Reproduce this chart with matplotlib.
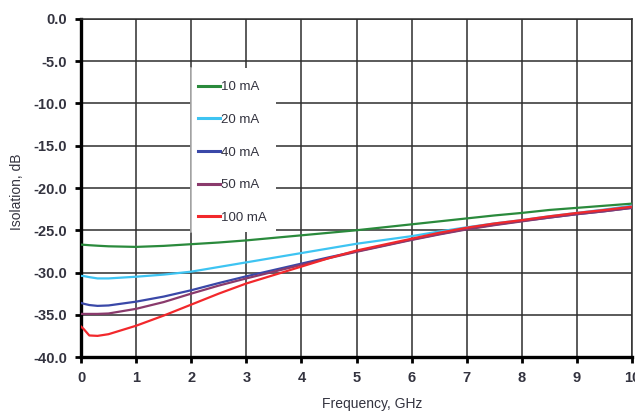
import matplotlib
matplotlib.use('Agg')
import matplotlib.pyplot as plt
import matplotlib.patches as mpatches

FONT = 'Liberation Sans'
TEXT_COLOR = '#33333f'

freq = [0, 0.05, 0.15, 0.3, 0.5, 1, 1.5, 2, 2.5, 3, 3.5, 4, 4.5, 5,
        5.5, 6, 6.5, 7, 7.5, 8, 8.5, 9, 9.5, 10]
iso_10ma = [-26.7, -26.72, -26.77, -26.83, -26.9, -26.97, -26.85, -26.65, -26.45, -26.2, -25.9, -25.6,
            -25.3, -25.0, -24.65, -24.3, -23.95, -23.6, -23.25, -22.95, -22.6, -22.35, -22.1, -21.85]
iso_20ma = [-30.4, -30.42, -30.55, -30.7, -30.7, -30.5, -30.25, -29.9, -29.35, -28.8, -28.25, -27.7,
            -27.15, -26.6, -26.15, -25.7, -25.15, -24.65, -24.2, -23.8, -23.35, -22.95, -22.55, -22.1]
iso_40ma = [-33.6, -33.7, -33.85, -33.95, -33.9, -33.45, -32.85, -32.1, -31.25, -30.45, -29.7, -28.95,
            -28.2, -27.5, -26.8, -26.1, -25.45, -24.85, -24.35, -23.9, -23.5, -23.1, -22.75, -22.35]
iso_50ma = [-34.9, -34.9, -34.9, -34.9, -34.85, -34.3, -33.5, -32.5, -31.55, -30.7, -29.9, -29.1,
            -28.3, -27.55, -26.85, -26.15, -25.5, -24.9, -24.4, -23.95, -23.5, -23.1, -22.75, -22.35]
iso_100ma = [-36.4, -36.7, -37.45, -37.5, -37.3, -36.3, -35.1, -33.8, -32.5, -31.3, -30.3, -29.3,
             -28.3, -27.4, -26.7, -26.0, -25.3, -24.7, -24.2, -23.8, -23.35, -22.95, -22.6, -22.2]

labels = ['10 mA', '20 mA', '40 mA', '50 mA', '100 mA']
colors = ['#2a8a3c', '#3ec4f2', '#3a48a8', '#8a3a6c', '#f2282c']
series = [iso_10ma, iso_20ma, iso_40ma, iso_50ma, iso_100ma]

plt.rcParams['axes.unicode_minus'] = False

fig = plt.figure(figsize=(6.35, 4.15), dpi=100)
ax = fig.add_axes([81 / 635, 58 / 415, 551 / 635, 338 / 415])

for vals, c, lab in zip(series, colors, labels):
    ax.plot(freq, vals, color=c, lw=1.6, label=lab, zorder=3)

ax.set_xlim(0, 10)
ax.set_ylim(-40, 0)
ax.set_xticks(range(0, 11))
ax.set_yticks(range(-40, 1, 5))
ax.set_yticklabels([f'{v:.1f}' for v in range(-40, 1, 5)])
ax.grid(True, color='#2e2e2e', lw=1.1, zorder=1)
ax.set_axisbelow(True)

for s in ['top', 'right']:
    ax.spines[s].set_color('#2e2e2e')
    ax.spines[s].set_linewidth(1.1)
for s in ['left', 'bottom']:
    ax.spines[s].set_color('black')
    ax.spines[s].set_linewidth(2.4)
ax.tick_params(direction='out', length=4, width=2, color='black', pad=6)
for t in ax.get_xticklabels() + ax.get_yticklabels():
    t.set_fontfamily(FONT)
    t.set_fontsize(10.5)
    t.set_fontweight('bold')
    t.set_color(TEXT_COLOR)

ax.set_xlabel('Frequency, GHz', fontfamily=FONT, fontsize=10, color=TEXT_COLOR)
ax.set_ylabel('Isolation, dB', fontfamily=FONT, fontsize=10, color=TEXT_COLOR)
ax.xaxis.set_label_coords(0.528, -0.118)
ax.yaxis.set_label_coords(-0.103, 0.49)

# legend box: white panel with grey left edge
x0, x1 = (191 - 81) / 551, (276 - 81) / 551
y0, y1 = (357 - 232) / 338, (357 - 68) / 338
ax.add_patch(mpatches.Rectangle((x0, y0), x1 - x0, y1 - y0, transform=ax.transAxes,
                                facecolor='white', edgecolor='none', zorder=4))
ax.plot([x0, x0], [y0, y1], transform=ax.transAxes, color='#b0b0b0', lw=1.2, zorder=5)
leg = ax.legend(loc='upper left', bbox_to_anchor=((198 - 81) / 551, (357 - 81) / 338),
                frameon=False, handlelength=1.7, handletextpad=0.05, labelspacing=1.55,
                borderpad=0, borderaxespad=0, prop={'family': FONT, 'size': 9.5})
leg.set_zorder(6)
for t in leg.get_texts():
    t.set_color(TEXT_COLOR)
for h in leg.get_lines():
    h.set_linewidth(2.2)

fig.savefig('out.png', dpi=100)
